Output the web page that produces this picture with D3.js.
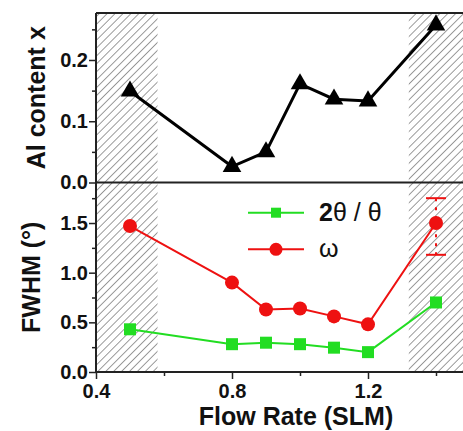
<!DOCTYPE html>
<html>
<head>
<meta charset="utf-8">
<script src="https://cdn.jsdelivr.net/npm/d3@7"></script>
<style>
  body { margin: 0; background: #fff; }
  text { font-family: "Liberation Sans", Arial, sans-serif; font-weight: bold; fill: #111; }
</style>
</head>
<body>
<div id="chart"></div>
<script>
// flow rates (SLM)
var flowRates = [0.5, 0.8, 0.9, 1.0, 1.1, 1.2, 1.4];
// Al content x (top panel)
var alContent = [0.149, 0.026, 0.050, 0.161, 0.136, 0.133, 0.257];
// FWHM values (bottom panel)
var fwhm2Theta = [0.43, 0.28, 0.295, 0.28, 0.245, 0.20, 0.70];
var fwhmOmega = [1.47, 0.90, 0.63, 0.64, 0.56, 0.48, 1.50];
// error bar on the last omega point
var omegaErr = { x: 1.4, low: 1.18, high: 1.75 };
// hatched (excluded) flow rate ranges
var hatchRanges = [[0.4, 0.581], [1.32, 1.5]];
var xTicks = [0.4, 0.8, 1.2];
var xMinor = [0.6, 1.0, 1.4];
var topTicks = [0.0, 0.1, 0.2];
var topMinor = [0.05, 0.15, 0.25];
var botTicks = [0.0, 0.5, 1.0, 1.5];
var botMinor = [0.25, 0.75, 1.25, 1.75];

var width = 463, height = 431;
// panel edges (pTop avoids clashing with window.top)
var pLeft = 96, pRight = 470, pTop = 13, pMid = 182.5, pBottom = 372;

var svg = d3.select("#chart").append("svg")
    .attr("width", width)
    .attr("height", height);

var x = d3.scaleLinear().domain([0.4, 1.5]).range([pLeft, pRight]);
var yTop = d3.scaleLinear().domain([0, 0.2767]).range([pMid, pTop]);
var yBot = d3.scaleLinear().domain([0, 1.908]).range([pBottom, pMid]);

// hatch pattern
var defs = svg.append("defs");
var pat = defs.append("pattern")
    .attr("id", "hatch")
    .attr("patternUnits", "userSpaceOnUse")
    .attr("width", 5.6).attr("height", 10)
    .attr("patternTransform", "rotate(45)");
pat.append("line")
    .attr("x1", 1).attr("y1", -1).attr("x2", 1).attr("y2", 11)
    .attr("stroke", "#959595").attr("stroke-width", 1)
    .attr("shape-rendering", "crispEdges");

svg.selectAll("rect.hatch")
    .data(hatchRanges)
    .enter().append("rect")
    .attr("class", "hatch")
    .attr("x", d => x(d[0]))
    .attr("y", pTop)
    .attr("width", d => x(d[1]) - x(d[0]))
    .attr("height", pBottom - pTop)
    .attr("fill", "url(#hatch)");

// frame lines
var axisColor = "#222";
svg.append("line").attr("x1", pLeft).attr("x2", width).attr("y1", pTop).attr("y2", pTop)
    .attr("stroke", axisColor).attr("stroke-width", 2);
svg.append("line").attr("x1", pLeft).attr("x2", width).attr("y1", pMid).attr("y2", pMid)
    .attr("stroke", axisColor).attr("stroke-width", 2);

// axes
var xAxis = svg.append("g").attr("transform", "translate(0," + pBottom + ")")
    .call(d3.axisBottom(x).tickValues(xTicks).tickSize(7).tickFormat(d3.format(".1f")));
svg.append("g").attr("transform", "translate(0," + pBottom + ")")
    .call(d3.axisBottom(x).tickValues(xMinor).tickSize(4).tickFormat(""));

var yTopAxis = svg.append("g").attr("transform", "translate(" + pLeft + ",0)")
    .call(d3.axisLeft(yTop).tickValues(topTicks).tickSize(7).tickFormat(d3.format(".1f")));
svg.append("g").attr("transform", "translate(" + pLeft + ",0)")
    .call(d3.axisLeft(yTop).tickValues(topMinor).tickSize(4).tickFormat(""));

var yBotAxis = svg.append("g").attr("transform", "translate(" + pLeft + ",0)")
    .call(d3.axisLeft(yBot).tickValues(botTicks).tickSize(7).tickFormat(d3.format(".1f")));
svg.append("g").attr("transform", "translate(" + pLeft + ",0)")
    .call(d3.axisLeft(yBot).tickValues(botMinor).tickSize(4).tickFormat(""));

svg.selectAll(".domain").remove();
svg.selectAll(".tick line").attr("stroke", axisColor).attr("stroke-width", 1.5);
svg.selectAll(".tick text").style("font-size", "20px").attr("fill", "#111");
xAxis.selectAll(".tick text").attr("dy", "0.85em").attr("y", 9);
yTopAxis.selectAll(".tick text").attr("x", -8);
yBotAxis.selectAll(".tick text").attr("x", -8);

svg.append("line").attr("x1", pLeft).attr("x2", pLeft).attr("y1", pTop).attr("y2", pBottom)
    .attr("stroke", axisColor).attr("stroke-width", 2);
svg.append("line").attr("x1", pLeft - 1).attr("x2", width).attr("y1", pBottom).attr("y2", pBottom)
    .attr("stroke", axisColor).attr("stroke-width", 2);

// axis titles
svg.append("text")
    .attr("transform", "translate(45," + (pTop + pMid) / 2 + ") rotate(-90)")
    .attr("text-anchor", "middle")
    .style("font-size", "25px")
    .text("Al content x");
svg.append("text")
    .attr("transform", "translate(40," + (pMid + pBottom) / 2 + ") rotate(-90)")
    .attr("text-anchor", "middle")
    .style("font-size", "25px")
    .text("FWHM (°)");
svg.append("text")
    .attr("x", 296).attr("y", 425)
    .attr("text-anchor", "middle")
    .style("font-size", "25px")
    .text("Flow Rate (SLM)");

// top panel: Al content
var topData = flowRates.map((f, i) => ({ x: f, y: alContent[i] }));
svg.append("path")
    .datum(topData)
    .attr("fill", "none")
    .attr("stroke", "#000")
    .attr("stroke-width", 3)
    .attr("d", d3.line().x(d => x(d.x)).y(d => yTop(d.y)));
svg.selectAll("path.tri")
    .data(topData)
    .enter().append("path")
    .attr("class", "tri")
    .attr("transform", d => "translate(" + x(d.x) + "," + yTop(d.y) + ")")
    .attr("d", d3.symbol().type(d3.symbolTriangle).size(150))
    .attr("fill", "#000");

// bottom panel
var green = "#22dd22", red = "#ee1111";
var gData = flowRates.map((f, i) => ({ x: f, y: fwhm2Theta[i] }));
var rData = flowRates.map((f, i) => ({ x: f, y: fwhmOmega[i] }));
var lineBot = d3.line().x(d => x(d.x)).y(d => yBot(d.y));

// error bar
var eb = svg.append("g").attr("stroke", red).attr("stroke-width", 2);
eb.append("line").attr("x1", x(omegaErr.x)).attr("x2", x(omegaErr.x))
    .attr("y1", yBot(omegaErr.high)).attr("y2", yBot(omegaErr.low))
    .attr("stroke-dasharray", "3,6");
[omegaErr.high, omegaErr.low].forEach(function (v) {
    eb.append("line").attr("x1", x(omegaErr.x) - 10).attr("x2", x(omegaErr.x) + 10)
        .attr("y1", yBot(v)).attr("y2", yBot(v));
});

svg.append("path").datum(gData)
    .attr("fill", "none").attr("stroke", green).attr("stroke-width", 2)
    .attr("d", lineBot);
svg.append("path").datum(rData)
    .attr("fill", "none").attr("stroke", red).attr("stroke-width", 2)
    .attr("d", lineBot);

svg.selectAll("rect.sq")
    .data(gData)
    .enter().append("rect")
    .attr("class", "sq")
    .attr("x", d => x(d.x) - 6).attr("y", d => yBot(d.y) - 6)
    .attr("width", 12).attr("height", 12)
    .attr("fill", green);
svg.selectAll("circle.dot")
    .data(rData)
    .enter().append("circle")
    .attr("class", "dot")
    .attr("cx", d => x(d.x)).attr("cy", d => yBot(d.y))
    .attr("r", 7)
    .attr("fill", red);

// legend
var legend = svg.append("g");
legend.append("line").attr("x1", 248).attr("x2", 304).attr("y1", 212.7).attr("y2", 212.7)
    .attr("stroke", green).attr("stroke-width", 2);
legend.append("rect").attr("x", 271).attr("y", 207.7).attr("width", 10).attr("height", 10)
    .attr("fill", green);
legend.append("line").attr("x1", 248).attr("x2", 304).attr("y1", 249.3).attr("y2", 249.3)
    .attr("stroke", red).attr("stroke-width", 2);
legend.append("circle").attr("cx", 276).attr("cy", 249.3).attr("r", 6.5).attr("fill", red);

var t1 = legend.append("text").attr("x", 319).attr("y", 221).style("font-size", "25px");
t1.append("tspan").text("2");
t1.append("tspan").style("font-weight", "normal").text("θ / θ");
legend.append("text").attr("x", 319).attr("y", 257).style("font-size", "25px")
    .style("font-weight", "normal").text("ω");
</script>
</body>
</html>
